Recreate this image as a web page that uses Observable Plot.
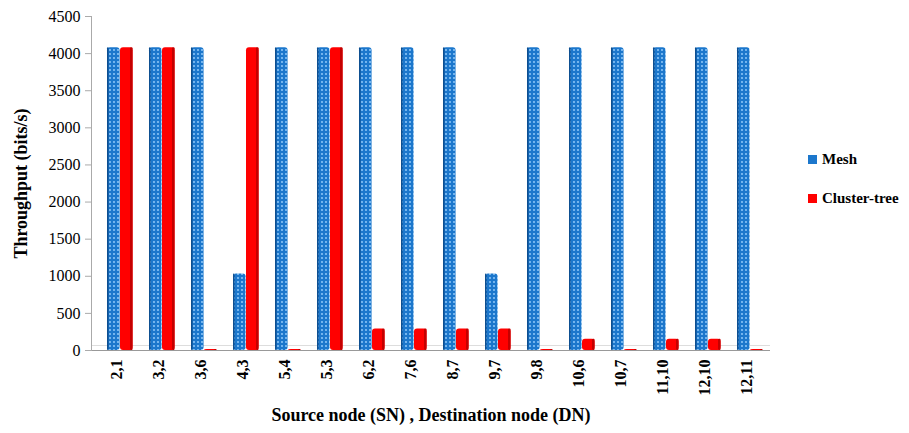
<!DOCTYPE html>
<html>
<head>
<meta charset="utf-8">
<script src="https://cdn.jsdelivr.net/npm/d3@7"></script>
<script src="https://cdn.jsdelivr.net/npm/@observablehq/plot@0.6"></script>
<style>
  body { margin: 0; background: #fff; }
  #wrap { position: relative; width: 909px; height: 433px; font-family: "Liberation Serif", "Times New Roman", serif; }
  #wrap svg, #wrap svg text { font-family: "Liberation Serif", "Times New Roman", serif !important; }
  .legend { position: absolute; left: 808px; font-weight: bold; font-size: 15px; font-family: "Liberation Serif", "Times New Roman", serif; color: #000; display: flex; align-items: center; white-space: nowrap; }
  .legend .sw { width: 9px; height: 9px; margin-right: 5px; }
</style>
</head>
<body>
<div id="wrap"></div>
<script>
const categories = ["2,1","3,2","3,6","4,3","5,4","5,3","6,2","7,6","8,7","9,7","9,8","10,6","10,7","11,10","12,10","12,11"];
const mesh =        [4080,4080,4080,1030,4080,4080,4080,4080,4080,1030,4080,4080,4080,4080,4080,4080];
const clusterTree = [4080,4080,  15,4080,  15,4080, 290, 290, 290, 290,  15, 150,  15, 150, 150,  15];
const yTicks = [0,500,1000,1500,2000,2500,3000,3500,4000,4500];
const seriesNames = ["Mesh", "Cluster-tree"];

const meshData = categories.map((c, i) => ({cat: c, value: mesh[i]}));
const ctData = categories.map((c, i) => ({cat: c, value: clusterTree[i]}));

const W = 909, H = 433, ML = 91, MR = 139;
const bw = (W - ML - MR) / categories.length;

const font = "Liberation Serif";
const chart = Plot.plot({
  width: W,
  height: H,
  marginLeft: ML,
  marginRight: MR,
  marginTop: 16,
  marginBottom: 83,
  style: {fontSize: "16px", background: "#fff", color: "#000"},
  x: {domain: categories, padding: 0},
  y: {domain: [0, 4500]},
  marks: [
    Plot.ruleY([0], {stroke: "#ddd", dy: -5, strokeWidth: 1}),
    Plot.ruleY([0], {stroke: "#999", strokeWidth: 1.2}),
    Plot.barY(meshData, {x: "cat", y: "value", fill: "#1c77cc", insetLeft: 12, insetRight: bw - 25, rx: 3}),
    Plot.barY(meshData, {x: "cat", y: "value", fill: "#0d4f91", insetLeft: 12, insetRight: bw - 14, rx: 1}),
    Plot.barY(ctData, {x: "cat", y: "value", fill: "#ff0000", insetLeft: 25, insetRight: bw - 38, rx: 3}),
    Plot.barY(ctData, {x: "cat", y: "value", fill: "#c40000", insetLeft: 35, insetRight: bw - 38, rx: 1}),
    Plot.frame({anchor: "left", stroke: "#aaa"}),
    Plot.axisY({ticks: yTicks, tickFormat: d3.format("d"), tickSize: 6, tickPadding: 5, stroke: "#aaa", fontSize: 16,
      label: "Throughput (bits/s)", labelAnchor: "center", labelOffset: 77, labelArrow: "none"}),
    Plot.axisX({tickRotate: -90, tickSize: 0, tickPadding: 9, fontSize: 16, fontWeight: "bold",
      label: "Source node (SN) , Destination node (DN)", labelAnchor: "center", labelOffset: 70, labelArrow: "none"})
  ]
});

// dotted texture for the Mesh bars
const svg = d3.select(chart);
const defs = svg.insert("defs", ":first-child");
const pat = defs.append("pattern").attr("id", "meshDots").attr("patternUnits", "userSpaceOnUse")
  .attr("width", 4).attr("height", 4);
pat.append("rect").attr("width", 4).attr("height", 4).attr("fill", "#1c77cc");
pat.append("circle").attr("cx", 2).attr("cy", 2).attr("r", 0.9).attr("fill", "#9ed2ff");
svg.selectAll('g[fill="#1c77cc"]').attr("fill", "url(#meshDots)");
// axis titles bold and larger
svg.selectAll("text").filter(function() {
  const t = this.textContent;
  return t === "Throughput (bits/s)" || t === "Source node (SN) , Destination node (DN)";
}).style("font-weight", "bold").style("font-size", "18px");

const wrap = document.getElementById("wrap");
wrap.appendChild(chart);
const colors = ["#1c77cc", "#ff0000"];
const tops = [151, 190];
seriesNames.forEach((name, i) => {
  const d = document.createElement("div");
  d.className = "legend";
  d.style.top = tops[i] + "px";
  d.innerHTML = `<span class="sw" style="background:${colors[i]}"></span><span>${name}</span>`;
  wrap.appendChild(d);
});
</script>
</body>
</html>
